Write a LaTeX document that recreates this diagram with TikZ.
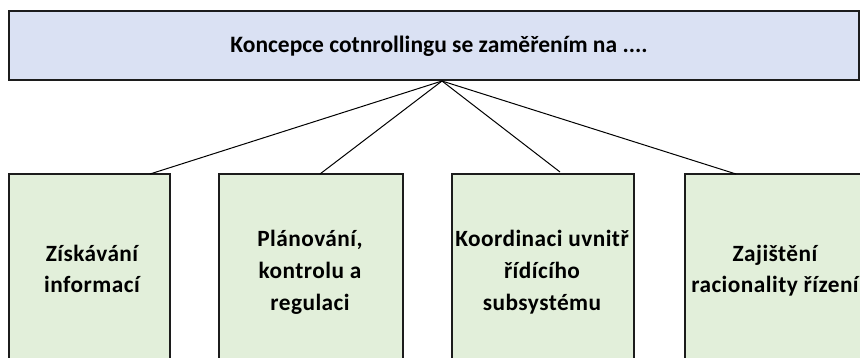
\documentclass[tikz,border=0pt]{standalone}
\usepackage{fontspec}
\setmainfont{Carlito}
\definecolor{topfill}{HTML}{DAE1F3}
\definecolor{boxfill}{HTML}{E2EFDA}
\definecolor{edge}{HTML}{1C1C1C}
\begin{document}
\begin{tikzpicture}[x=1pt,y=-1pt,
  topbox/.style={draw=edge,line width=1.3pt,fill=topfill,rectangle,inner sep=0pt},
  itembox/.style={draw=edge,line width=1.3pt,fill=boxfill,rectangle,inner sep=0pt},
  toptextstyle/.style={font=\fontsize{23.5}{31}\selectfont\bfseries,inner sep=0pt,anchor=base},
  itemtext/.style={font=\fontsize{23.3}{31.5}\selectfont\bfseries\addfontfeature{LetterSpace=2},align=center,inner sep=0pt,anchor=base},
  link/.style={draw=black,line width=1pt}]
\useasboundingbox (0,0) rectangle (860,358);
\clip (0,0) rectangle (860,358);
\node[topbox,minimum width=850pt,minimum height=69pt] (top) at (434,45.5) {};
\node[toptextstyle] (toptext) at (439,53) {Koncepce cotnrollingu se zaměřením na ....};
\coordinate (apex) at (442,81);
\node[itembox,minimum width=161pt,minimum height=220pt] (b1) at (89.5,284) {};
\node[itembox,minimum width=184pt,minimum height=220pt] (b2) at (311,284) {};
\node[itembox,minimum width=182pt,minimum height=220pt] (b3) at (543,284) {};
\node[itembox,minimum width=182pt,minimum height=220pt] (b4) at (776,284) {};
\coordinate (t1) at (150,174);
\coordinate (t2) at (320,174);
\coordinate (t3) at (560,172);
\coordinate (t4) at (736,174);
\draw[link] (apex) -- (t1);
\draw[link] (apex) -- (t2);
\draw[link] (apex) -- (t3);
\draw[link] (apex) -- (t4);
\node[itemtext] (x1) at (92,293) {Získávání\\informací};
\node[itemtext] (x2) at (310,310) {Plánování,\\kontrolu a\\regulaci};
\node[itemtext] (x3) at (542,310) {Koordinaci uvnitř\\řídícího\\subsystému};
\node[itemtext] (x4) at (775,293) {Zajištění\\racionality řízení};
\end{tikzpicture}
\end{document}
